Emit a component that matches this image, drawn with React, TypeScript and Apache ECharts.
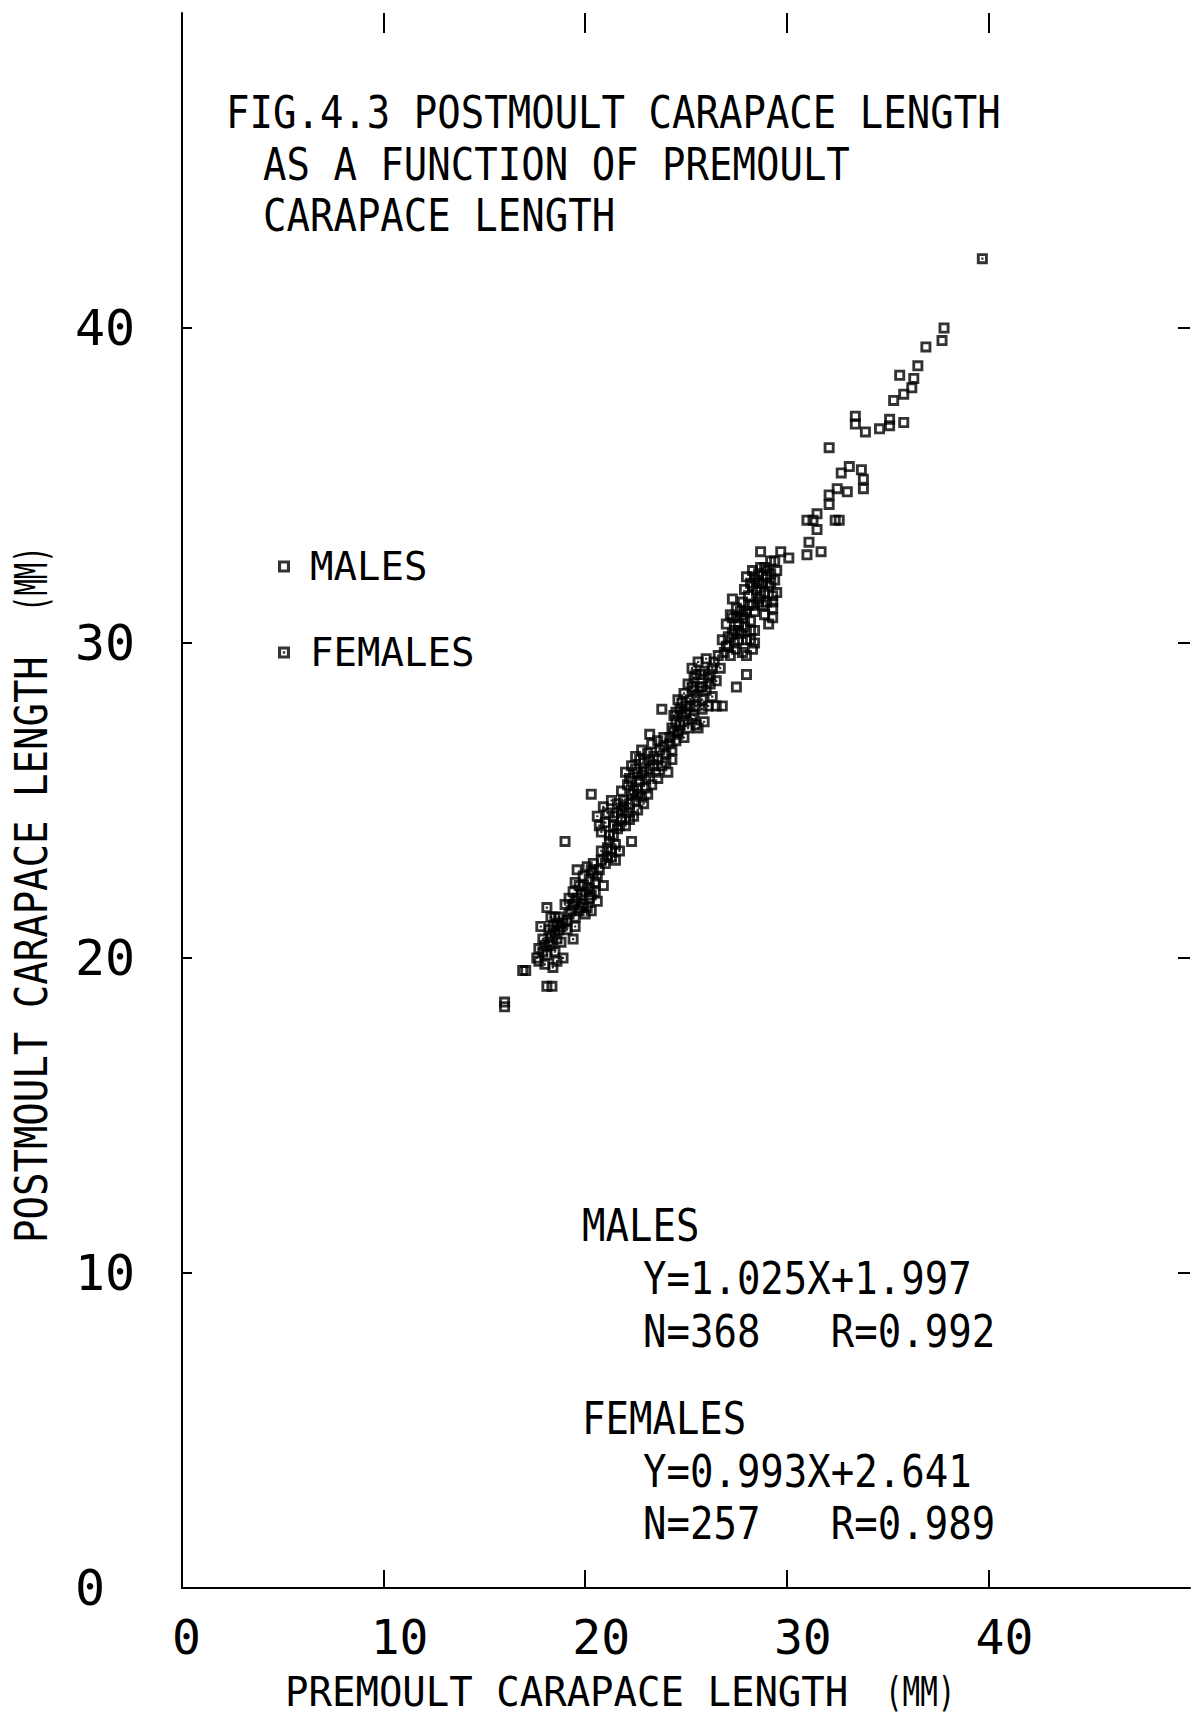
import React, { useEffect, useRef } from 'react';
import * as echarts from 'echarts';

// ---- data ----
const MALES: [number, number][] = [
  // sparse upper points
  [37.8, 40.0], [37.7, 39.6], [36.9, 39.4], [36.5, 38.8], [36.3, 38.4], [35.6, 38.5], [36.2, 38.1],
  [35.8, 37.9], [35.3, 37.7], [33.4, 37.2], [33.4, 36.95], [35.1, 37.1], [35.1, 36.9], [35.8, 37.0],
  [34.6, 36.8], [33.9, 36.7], [32.1, 36.2], [33.1, 35.6], [32.7, 35.4], [33.7, 35.5], [33.8, 35.2],
  [33.8, 34.9], [32.5, 34.9], [33.0, 34.8], [32.1, 34.7], [32.1, 34.4], [31.5, 34.1], [31.3, 33.9],
  [31.0, 33.9], [32.6, 33.9], [32.4, 33.9], [31.5, 33.6], [31.1, 33.2], [28.7, 32.9], [29.7, 32.9],
  [30.1, 32.7], [31.0, 32.8], [31.7, 32.9],
  // sparse lower points
  [16.0, 18.45], [16.0, 18.6], [18.1, 19.1], [18.35, 19.1], [16.9, 19.6], [17.05, 19.6], [17.7, 19.9],
  [19.0, 23.7], [22.3, 23.7], [20.3, 25.2], [23.8, 27.9], [23.2, 27.1], [27.5, 28.6], [26.8, 28.0],
  [26.5, 28.0], [28.0, 29.0], [25.5, 27.4],
  // band 21.4-23.1
  [19.3, 21.5], [19.5, 21.8], [19.7, 21.5], [19.9, 21.7], [20.1, 21.6], [20.3, 21.5], [19.4, 22.1],
  [19.7, 22.3], [20.0, 22.1], [20.3, 22.0], [20.6, 21.8], [19.9, 22.6], [20.2, 22.5], [20.5, 22.4],
  [20.1, 22.9], [20.4, 23.0], [20.7, 22.8], [19.6, 22.8], [20.9, 22.3], [20.0, 21.4], [19.2, 21.9],
  [19.5, 21.3], [19.8, 22.0], [20.4, 22.7], [20.8, 23.1], [19.5, 22.4], [20.2, 21.9],
  [19.6, 21.9], [19.9, 22.3], [20.2, 22.2], [20.5, 22.1], [19.8, 21.6], [20.6, 22.6], [20.3, 22.8],
  [19.4, 21.7],
  // band 25.1-27.1
  [21.8, 25.3], [22.1, 25.5], [22.4, 25.3], [22.7, 25.6], [23.0, 25.4], [23.3, 25.5], [22.0, 25.9],
  [22.3, 26.1], [22.6, 25.9], [22.9, 26.2], [23.2, 26.0], [23.5, 25.9], [23.8, 26.1], [22.5, 26.4],
  [22.8, 26.6], [23.1, 26.5], [23.4, 26.4], [23.7, 26.6], [24.0, 26.5], [24.3, 26.3], [23.6, 26.9],
  [23.9, 27.0], [24.2, 26.8], [24.5, 26.9], [24.4, 27.2], [23.1, 25.2], [24.1, 25.9],
  [22.2, 25.7], [22.8, 25.8], [23.4, 26.1], [24.0, 26.2], [23.3, 26.8], [24.6, 27.1], [22.6, 25.4],
  [22.3, 25.6], [22.5, 26.0], [22.9, 25.9], [23.2, 26.3], [23.6, 26.3], [23.9, 26.7], [24.3, 26.6],
  [22.7, 26.3], [23.0, 25.7], [23.6, 25.7],
  // band 29.5-31.5
  [26.9, 29.7], [27.2, 29.6], [27.5, 29.8], [27.8, 29.7], [26.8, 30.1], [27.1, 30.2], [27.4, 30.0],
  [27.7, 30.3], [28.0, 30.1], [28.4, 30.0], [28.4, 30.4], [27.0, 30.6], [27.3, 30.8], [27.6, 30.6],
  [27.9, 30.8], [28.2, 30.7], [27.5, 31.1], [27.8, 31.3], [28.1, 31.2], [28.4, 31.0], [28.6, 31.4],
  [27.3, 31.4], [28.0, 29.6],
  [27.1, 29.9], [27.6, 30.1], [28.2, 30.4], [27.4, 30.4], [28.0, 31.0], [27.7, 31.0], [28.3, 29.8],
  [27.0, 29.9], [27.3, 30.3], [27.6, 30.4], [27.9, 30.5], [28.2, 30.1], [27.5, 30.8], [27.8, 30.9],
  [28.3, 31.2], [27.2, 30.9],
  // band 30.7-32.6
  [27.9, 31.7], [28.2, 31.9], [28.5, 31.7], [28.8, 31.9], [29.1, 31.8], [29.3, 31.5], [28.0, 32.1],
  [28.3, 32.3], [28.6, 32.2], [28.9, 32.4], [29.2, 32.2], [29.4, 32.0], [29.3, 31.1], [29.3, 30.8],
  [29.0, 31.3], [28.7, 31.5], [29.5, 31.6], [28.9, 30.9], [29.5, 32.3], [29.2, 32.6],
  [28.1, 31.5], [28.5, 32.0], [29.0, 32.1], [28.8, 31.2], [29.4, 32.6], [29.1, 30.6],
  [28.3, 31.8], [28.6, 31.9], [28.9, 31.6], [29.2, 31.9], [28.4, 32.1], [28.7, 32.4], [29.0, 32.3],
  [29.3, 31.3], [28.6, 31.3],
];

const FEMALES: [number, number][] = [
  [39.7, 42.2],
  // band 19.7-21.7
  [17.7, 20.3], [17.9, 20.6], [18.1, 20.1], [18.3, 20.4], [18.2, 20.9], [18.5, 20.2], [18.6, 20.6],
  [18.4, 21.0], [18.7, 21.3], [18.9, 21.1], [18.8, 20.5], [19.4, 20.6], [19.0, 21.7], [18.1, 21.6],
  [17.8, 21.0], [18.6, 19.9], [18.4, 19.7], [18.0, 19.8], [19.2, 21.4], [18.9, 20.0], [19.5, 21.0],
  [17.9, 20.2], [18.3, 20.7], [18.7, 20.9], [19.1, 20.9], [18.5, 21.3], [17.6, 20.0],
  [18.2, 20.5], [18.5, 20.8], [18.8, 21.0], [18.0, 20.4], [18.6, 21.1], [19.1, 21.2], [18.3, 21.3],
  // band 22.8-25.2
  [21.0, 23.0], [21.3, 23.2], [21.1, 23.5], [21.5, 23.6], [21.2, 23.9], [21.6, 24.1], [20.8, 24.0],
  [21.0, 24.3], [21.4, 24.5], [21.8, 24.4], [22.1, 24.6], [21.6, 24.9], [21.9, 25.0], [22.2, 24.9],
  [22.5, 25.0], [22.8, 25.1], [20.6, 24.5], [20.9, 24.8], [21.3, 25.0], [22.0, 24.2], [22.4, 24.5],
  [21.7, 23.4], [20.8, 23.4], [22.6, 24.7],
  [21.2, 23.7], [21.4, 24.2], [21.8, 24.7], [22.3, 25.2], [20.7, 24.2], [21.5, 23.1], [22.9, 24.9],
  [21.1, 23.2], [21.4, 23.9], [21.7, 24.2], [21.1, 24.6], [21.6, 24.6], [22.2, 24.4], [21.9, 24.8],
  [22.6, 25.2], [21.3, 23.4],
  // band 27.1-29.6
  [24.3, 27.3], [24.6, 27.2], [24.9, 27.5], [24.4, 27.7], [24.7, 27.9], [25.0, 27.8], [25.3, 27.6],
  [25.6, 27.3], [25.9, 27.5], [24.6, 28.2], [24.9, 28.4], [25.2, 28.2], [25.5, 28.0], [25.8, 27.9],
  [26.1, 28.0], [25.1, 28.7], [25.4, 28.9], [25.7, 28.6], [26.0, 28.5], [26.3, 28.3], [25.3, 29.2],
  [25.6, 29.4], [25.9, 29.1], [26.2, 29.0], [26.5, 28.8], [26.0, 29.5], [26.4, 29.4], [26.7, 29.2],
  [25.0, 28.0], [24.2, 27.0],
  [24.5, 27.5], [25.1, 27.3], [24.8, 28.1], [25.4, 28.5], [25.8, 28.2], [26.2, 28.7], [25.5, 29.0],
  [26.6, 29.6], [24.9, 27.0],
  [24.5, 27.8], [24.8, 27.7], [25.2, 28.0], [25.5, 28.3], [25.8, 28.6], [26.1, 28.9], [25.3, 28.6],
  [25.7, 29.0], [26.3, 29.2], [24.7, 27.4], [25.4, 27.7],
];

const X_LABEL_VALUES = [0, 10, 20, 30, 40];
const Y_LABEL_VALUES = [0, 10, 20, 30, 40];
const INNER_TICK_VALUES = [10, 20, 30, 40];
const SERIES_NAMES = ['MALES', 'FEMALES'];
const TITLE_LINES = ['FIG.4.3 POSTMOULT CARAPACE LENGTH', 'AS A FUNCTION OF PREMOULT', 'CARAPACE LENGTH'];
const X_TITLE = ['PREMOULT CARAPACE LENGTH', '(MM)'];
const Y_TITLE = ['POSTMOULT CARAPACE LENGTH', '(MM)'];
const STAT_LINES = [
  'MALES', 'Y=1.025X+1.997', 'N=368   R=0.992',
  'FEMALES', 'Y=0.993X+2.641', 'N=257   R=0.989',
];

const FONT = '"DejaVu Sans Mono", "Liberation Mono", monospace';
const MALE_SYMBOL = 'path://M0,0H10V10H0Z M2.6,2.6V7.4H7.4V2.6Z';
const FEMALE_SYMBOL = 'path://M0,0H10V10H0Z M2.6,2.6V7.4H7.4V2.6Z M4,4H6V6H4Z';

function txt(text: string, x: number, y: number, extra: any = {}) {
  return {
    type: 'text',
    x,
    y,
    scaleY: 1.15,
    silent: true,
    ...extra,
    style: {
      text,
      fill: '#000',
      fontFamily: FONT,
      fontSize: 39,
      align: 'left',
      verticalAlign: 'middle',
    },
  };
}

export default function App() {
  const ref = useRef<HTMLDivElement>(null);

  useEffect(() => {
    document.body.style.margin = '0';
    const chart = echarts.init(ref.current!, null, { renderer: 'svg' });
    const axisLineStyle = { color: '#000', width: 2 };
    const hiddenLine = { color: 'rgba(0,0,0,0)', width: 0 };

    const titleX = [226, 263, 263];
    const titleY = [113, 165, 216];
    const statX = [582, 643, 643, 582, 643, 643];
    const statY = [1226, 1279, 1332, 1419, 1472, 1524];

    const graphics: any[] = [];
    TITLE_LINES.forEach((t, i) => graphics.push(txt(t, titleX[i], titleY[i])));
    STAT_LINES.forEach((t, i) => graphics.push(txt(t, statX[i], statY[i])));
    graphics.push(txt(X_TITLE[0], 285, 1692, { scaleY: 1.05 }));
    graphics.push(txt(X_TITLE[1], 885, 1692, { scaleY: 1.05, scaleX: 0.75 }));
    graphics.push(txt(Y_TITLE[0], 32, 1243, { rotation: Math.PI / 2 }));
    graphics.push(txt(Y_TITLE[1], 32, 612, { rotation: Math.PI / 2, scaleX: 0.7 }));

    chart.setOption({
      animation: false,
      backgroundColor: '#fff',
      grid: { left: 182, right: 11, top: 13, bottom: 129, containLabel: false },
      legend: {
        orient: 'vertical',
        left: 273,
        top: 542,
        itemWidth: 12,
        itemHeight: 12,
        itemGap: 47,
        selectedMode: false,
        data: SERIES_NAMES,
        textStyle: { fontFamily: FONT, fontSize: 39, color: '#000', padding: [0, 0, 0, 15] },
      },
      xAxis: [
        {
          type: 'value',
          min: 0,
          max: 50,
          interval: 10,
          position: 'bottom',
          axisLine: { show: true, onZero: false, lineStyle: axisLineStyle },
          axisTick: { show: true, inside: true, length: 18, customValues: INNER_TICK_VALUES, lineStyle: axisLineStyle },
          axisLabel: {
            show: true,
            customValues: X_LABEL_VALUES,
            margin: 25,
            formatter: (v: number) => (v < 10 ? `{a|${v}}` : `{b|${v}}`),
            rich: {
              a: { fontFamily: FONT, fontSize: 48, color: '#000', padding: [0, 0, 0, 9] },
              b: { fontFamily: FONT, fontSize: 48, color: '#000', padding: [0, 0, 0, 32] },
            },
          },
          splitLine: { show: false },
        },
        {
          type: 'value',
          min: 0,
          max: 50,
          interval: 10,
          position: 'top',
          axisLine: { show: true, onZero: false, lineStyle: hiddenLine },
          axisTick: { show: true, inside: true, length: 20, customValues: INNER_TICK_VALUES, lineStyle: axisLineStyle },
          axisLabel: { show: false },
          splitLine: { show: false },
        },
      ],
      yAxis: [
        {
          type: 'value',
          min: 0,
          max: 50,
          interval: 10,
          position: 'left',
          axisLine: { show: true, onZero: false, lineStyle: axisLineStyle },
          axisTick: { show: true, inside: true, length: 10, customValues: INNER_TICK_VALUES, lineStyle: axisLineStyle },
          axisLabel: {
            show: true,
            customValues: Y_LABEL_VALUES,
            align: 'left',
            margin: 107,
            fontFamily: FONT,
            fontSize: 50,
            color: '#000',
          },
          splitLine: { show: false },
        },
        {
          type: 'value',
          min: 0,
          max: 50,
          interval: 10,
          position: 'right',
          axisLine: { show: true, onZero: false, lineStyle: hiddenLine },
          axisTick: { show: true, inside: true, length: 12, customValues: INNER_TICK_VALUES, lineStyle: axisLineStyle },
          axisLabel: { show: false },
          splitLine: { show: false },
        },
      ],
      series: [
        {
          type: 'scatter',
          name: SERIES_NAMES[0],
          xAxisIndex: 0,
          yAxisIndex: 0,
          data: MALES,
          symbol: MALE_SYMBOL,
          symbolSize: 11,
          itemStyle: { color: '#000' },
          silent: true,
        },
        {
          type: 'scatter',
          name: SERIES_NAMES[1],
          xAxisIndex: 0,
          yAxisIndex: 0,
          data: FEMALES,
          symbol: FEMALE_SYMBOL,
          symbolSize: 11,
          itemStyle: { color: '#000' },
          silent: true,
        },
      ],
      graphic: graphics,
    });

    return () => chart.dispose();
  }, []);

  return <div ref={ref} style={{ width: 1201, height: 1717 }} />;
}
